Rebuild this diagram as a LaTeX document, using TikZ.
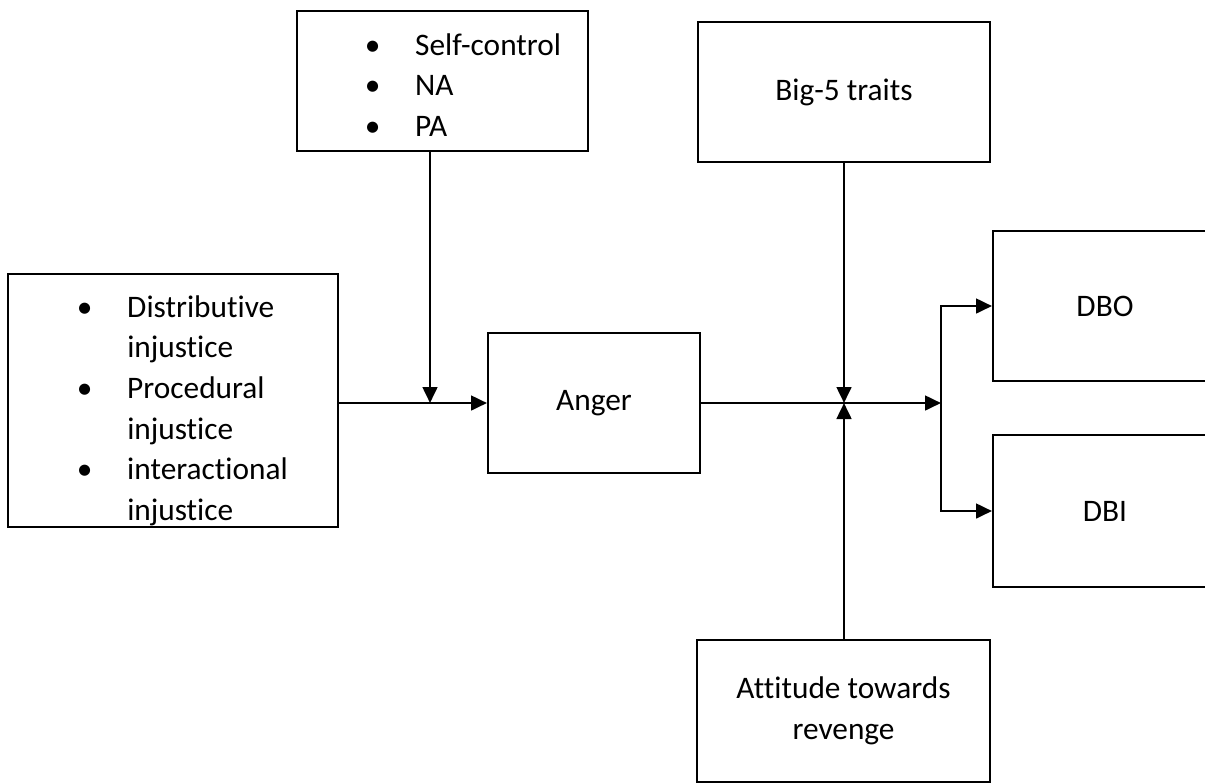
\documentclass[tikz,border=0pt]{standalone}
\usepackage{fontspec}
\setmainfont[Ligatures={NoCommon}]{Carlito}
\usetikzlibrary{arrows.meta}
\tikzset{
  box/.style={draw, line width=1.5pt, inner sep=0pt, font=\fontsize{23.5}{30.5}\selectfont, align=center},
  txt/.style={inner sep=0pt, font=\fontsize{23.5}{30.5}\selectfont},
  arr/.style={line width=2pt, -{Triangle[length=12pt,width=11pt]}},
}
\newcommand{\bul}{\makebox[32pt][c]{\textbullet}\hspace{16pt}}
\newcommand{\ind}{\hspace{48pt}}
\begin{document}
\begin{tikzpicture}[x=0.75pt,y=-0.75pt]
\useasboundingbox[fill=white] (0,0) rectangle (1205,783);
% boxes
\node[box, minimum width=218.25pt, minimum height=105pt] (mod1) at (442.5,81) {};
\node[box, minimum width=219pt, minimum height=105pt] (big5) at (844,92) {Big-5 traits};
\node[box, minimum width=247.5pt, minimum height=189.75pt] (inj) at (173,400.5) {};
\node[box, minimum width=159pt, minimum height=105pt] (anger) at (594,403) {Anger};
\node[box, minimum width=168pt, minimum height=112.5pt] (dbo) at (1105,306) {DBO};
\node[box, minimum width=168pt, minimum height=114pt] (dbi) at (1105,511) {DBI};
\node[box, minimum width=219.75pt, minimum height=106.5pt] (att) at (843.5,711) {Attitude towards\\revenge};
% lists
\node[txt, anchor=base west] (mod1txt) at (351,55) {\begin{tabular}[t]{@{}l@{}}\bul Self-control\\ \bul NA\\ \bul PA\end{tabular}};
\node[txt, anchor=base west] (injtxt) at (63,317) {\begin{tabular}[t]{@{}l@{}}\bul Distributive\\ \ind injustice\\ \bul Procedural\\ \ind injustice\\ \bul interactional\\ \ind injustice\end{tabular}};
% junctions
\coordinate (J1) at (430,403);
\coordinate (J2) at (844,403);
\coordinate (S) at (941,403);
% connectors
\draw[arr] (inj.east |- J1) -- (anger.west |- J1);
\draw[arr] (J1 |- mod1.south) -- (J1);
\draw[arr] (anger.east |- J2) -- (S);
\draw[arr] (J2 |- big5.south) -- (J2);
\draw[arr] (J2 |- att.north) -- (J2);
\draw[arr] (S) |- (dbo.west);
\draw[arr] (S) |- (dbi.west);
\end{tikzpicture}
\end{document}
